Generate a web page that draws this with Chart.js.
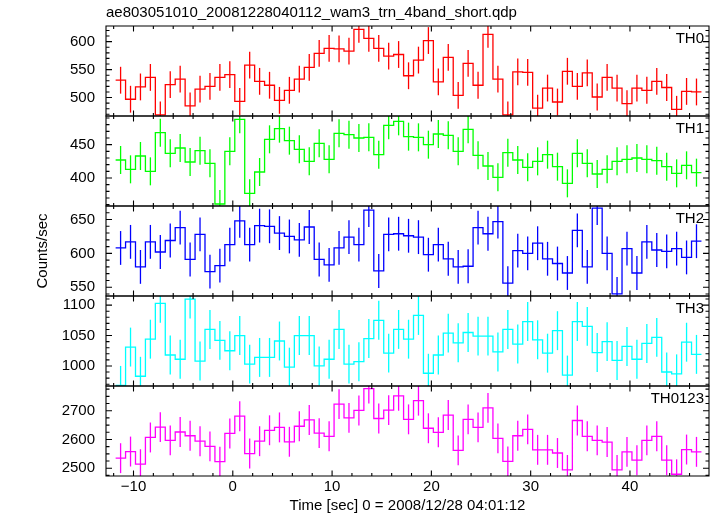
<!DOCTYPE html>
<html>
<head>
<meta charset="utf-8">
<script src="https://cdn.jsdelivr.net/npm/chart.js@4.4.1/dist/chart.umd.min.js"></script>
<style>
  html, body { margin: 0; padding: 0; background: #fff; }
  #wrap { width: 717px; height: 516px; }
</style>
</head>
<body>
<div id="wrap"><canvas id="lc" width="717" height="516"></canvas></div>
<script>
/* light curve, 5 bands stacked, 1 s bins with error bars */
const plotTitle = 'ae803051010_20081228040112_wam3_trn_4band_short.qdp';
const xTitle = 'Time [sec] 0 = 2008/12/28 04:01:12';
const yTitle = 'Counts/sec';

// bin centres (sec)
const timeBins = [-11.3, -10.3, -9.3, -8.3, -7.3, -6.3, -5.3, -4.3, -3.3, -2.3,
  -1.3, -0.3, 0.7, 1.7, 2.7, 3.7, 4.7, 5.7, 6.7, 7.7,
  8.7, 9.7, 10.7, 11.7, 12.7, 13.7, 14.7, 15.7, 16.7, 17.7,
  18.7, 19.7, 20.7, 21.7, 22.7, 23.7, 24.7, 25.7, 26.7, 27.7,
  28.7, 29.7, 30.7, 31.7, 32.7, 33.7, 34.7, 35.7, 36.7, 37.7,
  38.7, 39.7, 40.7, 41.7, 42.7, 43.7, 44.7, 45.7, 46.7];
const binWidth = 1;

const th0 = [531, 497, 519, 536, 469, 523, 533, 485, 515, 520,
  536, 541, 493, 558, 529, 522, 495, 513, 533, 554,
  579, 588, 587, 583, 622, 606, 588, 574, 577, 539,
  567, 602, 528, 572, 504, 561, 522, 613, 533, 469,
  546, 545, 481, 517, 492, 547, 520, 544, 501, 536,
  517, 489, 517, 513, 529, 518, 479, 511, 510];
const th1 = [427, 413, 433, 410, 468, 437, 445, 424, 441, 422,
  361, 440, 488, 377, 409, 458, 474, 456, 443, 425,
  452, 428, 467, 465, 460, 461, 435, 479, 485, 462,
  461, 450, 466, 464, 440, 473, 434, 418, 401, 438,
  427, 416, 425, 435, 417, 392, 437, 422, 406, 413,
  425, 428, 430, 428, 426, 417, 407, 419, 408];
const th2 = [608, 617, 580, 617, 602, 619, 638, 591, 628, 573,
  582, 613, 648, 613, 641, 640, 630, 625, 620, 639,
  591, 583, 608, 624, 613, 664, 574, 628, 629, 626,
  624, 598, 613, 592, 580, 581, 638, 629, 647, 556,
  604, 600, 615, 592, 585, 571, 634, 580, 667, 600,
  540, 607, 571, 617, 605, 603, 607, 594, 618];
const th3 = [968, 1031, 983, 1044, 1103, 1018, 1011, 1110, 1008, 1060,
  1042, 1025, 1050, 1003, 1014, 1014, 1041, 998, 1050, 1050,
  1000, 1011, 1060, 1003, 1007, 1045, 1075, 1021, 1060, 1044,
  1083, 988, 1018, 1054, 1038, 1055, 1049, 1049, 1023, 1060,
  1036, 1073, 1043, 1021, 1058, 985, 1073, 1065, 1022, 1040,
  1009, 1032, 1011, 1037, 1047, 990, 987, 1039, 1019];
const th0123 = [2535, 2558, 2514, 2607, 2643, 2597, 2626, 2613, 2594, 2576,
  2523, 2621, 2681, 2551, 2594, 2632, 2642, 2592, 2646, 2668,
  2622, 2611, 2723, 2675, 2701, 2777, 2673, 2702, 2752, 2670,
  2735, 2639, 2625, 2685, 2562, 2670, 2642, 2710, 2604, 2524,
  2613, 2635, 2564, 2564, 2553, 2494, 2666, 2611, 2597, 2591,
  2494, 2557, 2528, 2597, 2611, 2528, 2479, 2565, 2557];

// 1 sigma error per band
const th0Err = 24;
const th1Err = 21;
const th2Err = 25;
const th3Err = 32;
const th0123Err = 52;

const panelNames = ['TH0', 'TH1', 'TH2', 'TH3', 'TH0123'];
const xTicks = [-10, 0, 10, 20, 30, 40];
const th0Ticks = [500, 550, 600];
const th1Ticks = [400, 450];
const th2Ticks = [550, 600, 650];
const th3Ticks = [1000, 1050, 1100];
const th0123Ticks = [2500, 2600, 2700];

const FONT = '"Liberation Sans", Arial, Helvetica, sans-serif';

const panels = [
  { name: panelNames[0], values: th0, err: th0Err, ticks: th0Ticks, min: 467, max: 628, minor: 10, color: '#ff0000' },
  { name: panelNames[1], values: th1, err: th1Err, ticks: th1Ticks, min: 358, max: 493, minor: 10, color: '#00ff00' },
  { name: panelNames[2], values: th2, err: th2Err, ticks: th2Ticks, min: 537, max: 670, minor: 10, color: '#0000ff' },
  { name: panelNames[3], values: th3, err: th3Err, ticks: th3Ticks, min: 967, max: 1115, minor: 10, color: '#00ffff' },
  { name: panelNames[4], values: th0123, err: th0123Err, ticks: th0123Ticks, min: 2473, max: 2786, minor: 25, color: '#ff00ff' }
];

const fmt = v => (v < 0 ? '\u2212' + Math.abs(v) : String(v));

const datasets = [];
const scales = {
  x: {
    type: 'linear', min: -12.77, max: 47.96, bounds: 'data', offset: false,
    grid: { display: false, drawTicks: false }, border: { display: false },
    afterBuildTicks: s => { s.ticks = xTicks.map(v => ({ value: v })); },
    ticks: { font: { family: FONT, size: 15 }, color: '#000', padding: 2, maxRotation: 0, autoSkip: false, callback: fmt },
    title: { display: true, text: xTitle, color: '#000', font: { family: FONT, size: 15 }, padding: { top: 1, bottom: 1 } },
    afterFit: s => { s.height = 40; }
  }
};

panels.forEach((p, k) => {
  const id = 'y' + k;
  // step outline: left bin edges + closing right edge
  const steps = timeBins.map((t, i) => ({ x: t - binWidth / 2, y: p.values[i] }));
  steps.push({ x: timeBins[timeBins.length - 1] + binWidth / 2, y: p.values[p.values.length - 1] });
  datasets.push({
    type: 'line', data: steps, yAxisID: id, stepped: 'before',
    borderColor: p.color, borderWidth: 1.3, pointRadius: 0, fill: false
  });
  datasets.push({
    type: 'bar', yAxisID: id, grouped: false,
    data: timeBins.map((t, i) => ({ x: t, y: [p.values[i] - p.err, p.values[i] + p.err] })),
    backgroundColor: p.color, borderWidth: 0, barThickness: 1.3, maxBarThickness: 1.3, inflateAmount: 0
  });
  scales[id] = {
    type: 'linear', position: 'left', stack: 'panels', stackWeight: 1, weight: 5 - k,
    min: p.min, max: p.max, bounds: 'data', clip: true,
    grid: { display: false, drawTicks: false }, border: { display: false },
    afterBuildTicks: s => { s.ticks = p.ticks.map(v => ({ value: v })); },
    ticks: { font: { family: FONT, size: 15 }, color: '#000', padding: 11, callback: fmt },
    title: k === 2
      ? { display: true, text: yTitle, color: '#000', font: { family: FONT, size: 15 }, padding: { top: 34, bottom: 0 } }
      : { display: false },
    afterFit: s => { s.width = 106; }
  };
});

// frame, inward ticks on all four sides, band names
const panelFrame = {
  id: 'panelFrame',
  afterDatasetsDraw(chart) {
    const { ctx, chartArea: area, scales: sc } = chart;
    const xs = sc.x;
    const seg = (x1, y1, x2, y2) => { ctx.moveTo(x1, y1); ctx.lineTo(x2, y2); };
    ctx.save();
    ctx.strokeStyle = '#000';
    ctx.lineWidth = 1.1;
    panels.forEach((p, k) => {
      const ys = sc['y' + k];
      const top = ys.top, bot = ys.bottom;
      ctx.beginPath();
      ctx.rect(area.left, top, area.right - area.left, bot - top);
      for (let v = -12; v <= 46; v += 2) {
        const px = xs.getPixelForValue(v);
        const len = xTicks.includes(v) ? 5.5 : 3;
        seg(px, top, px, top + len);
        seg(px, bot, px, bot - len);
      }
      for (let v = Math.ceil(p.min / p.minor) * p.minor; v <= p.max; v += p.minor) {
        const py = ys.getPixelForValue(v);
        const len = p.ticks.includes(v) ? 6 : 3.5;
        seg(area.left, py, area.left + len, py);
        seg(area.right, py, area.right - len, py);
      }
      ctx.stroke();
      ctx.fillStyle = '#000';
      ctx.font = '15px ' + FONT;
      ctx.textAlign = 'right';
      ctx.textBaseline = 'alphabetic';
      ctx.fillText(p.name, area.right - 5, top + 16.5);
    });
    ctx.restore();
  }
};

new Chart(document.getElementById('lc'), {
  type: 'line',
  data: { datasets },
  options: {
    responsive: false,
    devicePixelRatio: 1,
    animation: false,
    events: [],
    layout: { padding: { left: 0, right: 8, top: 0, bottom: 0 } },
    plugins: {
      legend: { display: false },
      tooltip: { enabled: false },
      title: {
        display: true, text: plotTitle, align: 'start', fullSize: false, color: '#000',
        font: { family: FONT, size: 15, weight: 'normal' }, padding: { top: 4, bottom: 4 }
      }
    },
    scales
  },
  plugins: [panelFrame]
});
</script>
</body>
</html>
